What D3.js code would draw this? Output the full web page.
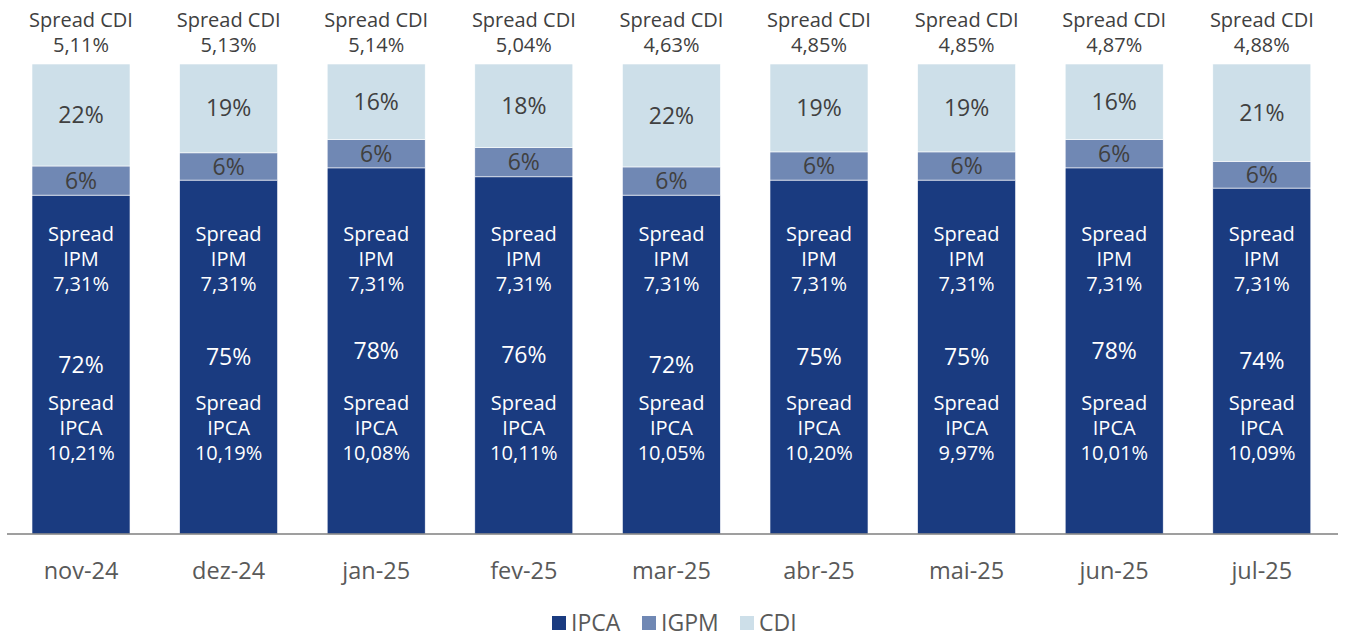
<!DOCTYPE html>
<html><head><meta charset="utf-8">
<script src="https://cdn.jsdelivr.net/npm/d3@7"></script>
<style>
html,body{margin:0;padding:0;background:#fff;}
svg{display:block;font-family:"Open Sans","Noto Sans",sans-serif;}
</style></head>
<body>
<svg id="chart" width="1347" height="638"></svg>
<script>
const categories = ["nov-24","dez-24","jan-25","fev-25","mar-25","abr-25","mai-25","jun-25","jul-25"];
const ipca = [72.1, 75.3, 77.9, 76.0, 72.1, 75.3, 75.3, 77.9, 73.6];
const igpm = [6.2, 5.8, 6.0, 6.2, 6.0, 6.0, 6.0, 6.0, 5.7];
const cdi  = [21.7, 18.9, 16.1, 17.8, 21.9, 18.7, 18.7, 16.1, 20.7];
const spreadCDI  = ["5,11%","5,13%","5,14%","5,04%","4,63%","4,85%","4,85%","4,87%","4,88%"];
const spreadIPM  = ["7,31%","7,31%","7,31%","7,31%","7,31%","7,31%","7,31%","7,31%","7,31%"];
const spreadIPCA = ["10,21%","10,19%","10,08%","10,11%","10,05%","10,20%","9,97%","10,01%","10,09%"];
const seriesNames = ["IPCA","IGPM","CDI"];
const colors = {IPCA:"#1a3b80", IGPM:"#7088b4", CDI:"#cddfe9"};

const rows = categories.map((c,i)=>({cat:c, IPCA:ipca[i], IGPM:igpm[i], CDI:cdi[i]}));
const stack = d3.stack().keys(seriesNames)(rows);

const svg = d3.select("#chart");
const x = d3.scaleBand().domain(categories).range([7.2,1335.6]).paddingInner(0.336).paddingOuter(0.168);
const y = d3.scaleLinear().domain([0,100]).range([534,64]);
const fs = 20;

// bars
const g = svg.append("g");
stack.forEach(s=>{
  g.selectAll(null).data(s).enter().append("rect")
    .attr("x", d=>x(d.data.cat))
    .attr("width", x.bandwidth())
    .attr("y", d=>y(d[1]))
    .attr("height", d=>y(d[0])-y(d[1]))
    .attr("fill", colors[s.key])
    .attr("stroke","#ffffff").attr("stroke-width",0.6);
});

// segment labels
stack.forEach(s=>{
  g.selectAll(null).data(s).enter().append("text")
    .attr("x", d=>x(d.data.cat)+x.bandwidth()/2)
    .attr("y", d=>(y(d[0])+y(d[1]))/2)
    .attr("dy","0.35em")
    .attr("text-anchor","middle")
    .attr("font-size",23)
    .attr("fill", s.key==="IPCA" ? "#ffffff" : "#404040")
    .text(d=>Math.round(d[1]-d[0])+"%");
});

// multi-line text helper
function multi(sel, lines, y0, color, size){
  lines.forEach((ln,k)=>{
    sel.append("text").attr("x",0).attr("y",y0+k*25).attr("dy","0.35em")
      .attr("text-anchor","middle").attr("font-size",size).attr("fill",color).text(ln);
  });
}
categories.forEach((c,i)=>{
  const cx = x(c)+x.bandwidth()/2;
  const gg = svg.append("g").attr("transform",`translate(${cx},0)`);
  multi(gg, ["Spread CDI", spreadCDI[i]], 20, "#404040", 20);
  multi(gg, ["Spread","IPM", spreadIPM[i]], 234, "#ffffff", fs);
  multi(gg, ["Spread","IPCA", spreadIPCA[i]], 403, "#ffffff", fs);
});

// axis line
svg.append("line").attr("x1",7).attr("x2",1338).attr("y1",534).attr("y2",534)
  .attr("stroke","#7f7f7f").attr("stroke-width",1.5);

// x axis labels
const xAxis = d3.axisBottom(x).tickSize(0).tickPadding(0);
const ax = svg.append("g").attr("transform","translate(0,534)").call(xAxis);
ax.select(".domain").remove();
ax.selectAll("text").attr("font-size",23.5).attr("fill","#595959")
  .attr("font-family","'Open Sans','Noto Sans',sans-serif")
  .attr("y",37).attr("dy","0.35em");

// legend
const legendX = [552, 642, 740];
const lg = svg.append("g");
seriesNames.forEach((n,i)=>{
  lg.append("rect").attr("x",legendX[i]).attr("y",616).attr("width",14).attr("height",14).attr("fill",colors[n]);
  lg.append("text").attr("x",legendX[i]+19).attr("y",623).attr("dy","0.35em")
    .attr("font-size",23).attr("fill","#595959").text(n);
});
</script>
</body></html>
